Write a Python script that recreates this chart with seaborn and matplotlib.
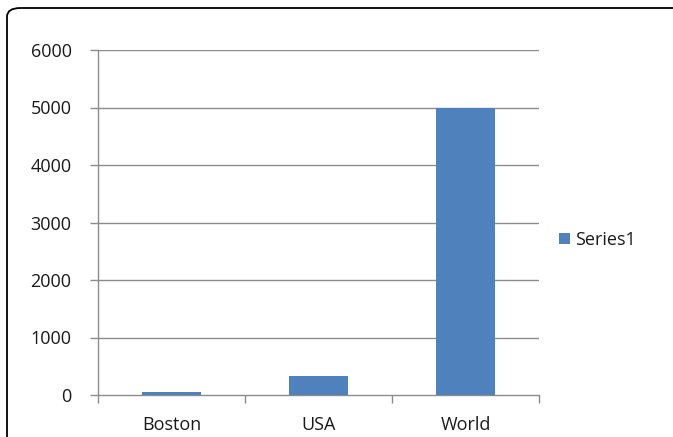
import matplotlib
matplotlib.use("Agg")
import matplotlib.pyplot as plt
from matplotlib.patches import FancyBboxPatch, Patch
import seaborn as sns
import pandas as pd

categories = ["Boston", "USA", "World"]
values = [45, 330, 5000]
series_name = "Series1"
y_ticks = [0, 1000, 2000, 3000, 4000, 5000, 6000]

bar_color = "#4F81BD"
grid_color = "#8C8C8C"
text_color = "#1A1A1A"

sns.set_theme(style="white")
plt.rcParams["font.family"] = ["Open Sans", "DejaVu Sans"]

df = pd.DataFrame({"category": categories, "value": values})

fig = plt.figure(figsize=(6.73, 4.37), dpi=100)
ax = fig.add_axes([98 / 673, 1 - 395 / 437, (539 - 98) / 673, (395 - 50) / 437])

sns.barplot(data=df, x="category", y="value", color=bar_color, width=0.4,
            saturation=1, linewidth=0, edgecolor="none", ax=ax, zorder=3)

ax.set_xlim(-0.5, 2.5)
ax.set_ylim(0, 6000)
ax.set_yticks(y_ticks)
ax.set_yticklabels([str(v) for v in y_ticks])
ax.set_xlabel("")
ax.set_ylabel("")

# horizontal gridlines at each major tick
for v in y_ticks[1:]:
    ax.axhline(v, color=grid_color, lw=1.0, zorder=1)

for side in ["top", "right"]:
    ax.spines[side].set_visible(False)
for side in ["left", "bottom"]:
    ax.spines[side].set_color(grid_color)
    ax.spines[side].set_linewidth(1.0)

ax.tick_params(axis="y", which="major", direction="out", length=6, width=1,
               color=grid_color, pad=13, labelsize=13, labelcolor=text_color, left=True)
ax.set_xticks([0, 1, 2])
ax.set_xticklabels(categories)
ax.tick_params(axis="x", which="major", length=0, pad=15, labelsize=13,
               labelcolor=text_color)
ax.set_xticks([-0.5, 0.5, 1.5, 2.5], minor=True)
ax.tick_params(axis="x", which="minor", direction="out", length=6, width=1,
               color=grid_color, bottom=True)

handle = Patch(facecolor=bar_color, edgecolor="none")
fig.legend([handle], [series_name], loc="center left",
           bbox_to_anchor=(543 / 673, 1 - 240 / 437), frameon=False,
           fontsize=13, handlelength=0.6, handleheight=0.6, handletextpad=0.3,
           labelcolor=text_color)

# rounded chart-area border, running off the right and bottom edges
border = FancyBboxPatch((7 / 673, -0.05), 1.2, 1 - 8 / 437 + 0.05,
                        boxstyle="round,pad=0,rounding_size=0.02",
                        transform=fig.transFigure, fill=False,
                        edgecolor="black", linewidth=1.3, clip_on=False)
fig.patches.append(border)

fig.savefig("out.png", dpi=100)
